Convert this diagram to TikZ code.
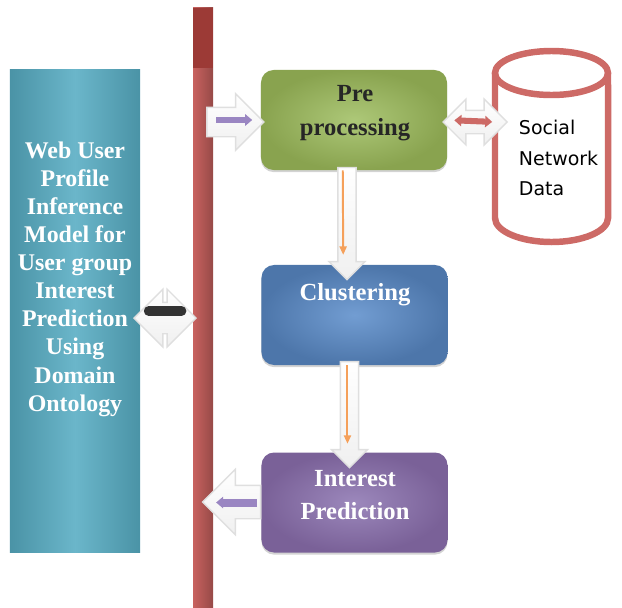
\documentclass[tikz,border=0pt]{standalone}
\usepackage{fontspec}
\setmainfont{Liberation Serif}
\newfontfamily\dbfont{DejaVu Sans}
\usepackage{tikz}
\usetikzlibrary{arrows.meta, positioning, shapes.arrows, shadows}
\definecolor{tealedge}{HTML}{4A93A6}
\definecolor{tealmid}{HTML}{6BB6CA}
\definecolor{greenedge}{HTML}{89A34F}
\definecolor{greenmid}{HTML}{ADC878}
\definecolor{blueedge}{HTML}{4D76AA}
\definecolor{bluemid}{HTML}{729DD2}
\definecolor{purpedge}{HTML}{7A6198}
\definecolor{purpmid}{HTML}{9C88BC}
\definecolor{barred}{HTML}{C8625F}
\definecolor{bardark}{HTML}{9C3A36}
\definecolor{dbred}{HTML}{CD6A66}
\definecolor{lilac}{HTML}{9A86C2}
\definecolor{orangeln}{HTML}{F5A05A}
\tikzstyle{block} = [rectangle, rounded corners=9pt, minimum width=4.65cm,
  minimum height=2.5cm, drop shadow={shadow xshift=0pt, shadow yshift=-1.5pt, opacity=0.35}]
\tikzstyle{blocktext} = [align=center, font=\fontsize{17.5}{24}\selectfont\bfseries]
\tikzstyle{hollow} = [single arrow, draw=gray!25, top color=white, bottom color=gray!12, line width=1pt]
\tikzstyle{hollowtwo} = [double arrow, draw=gray!25, top color=white, bottom color=gray!12, line width=1pt]
\tikzstyle{arrow} = [line width=4.3pt, -{Triangle[length=5pt, width=8pt]}]
\tikzstyle{thinarrow} = [line width=1.4pt, orangeln, -{Triangle[length=6pt, width=5pt]}]

\begin{document}
\begin{tikzpicture}[x=0.025cm, y=-0.025cm]
    \useasboundingbox (0,0) rectangle (622,607);
    % left model box and bar
    \node[rectangle, minimum width=3.25cm, minimum height=12.075cm, left color=tealedge,
      right color=tealedge, middle color=tealmid] (model) at (75,311) {};
    \node[blocktext, font=\fontsize{17}{20}\selectfont\bfseries, text=white] (modeltxt) at (75,279)
      {Web User\\Profile\\Inference\\Model for\\User group\\Interest\\Prediction\\Using\\Domain\\Ontology};
    \node[rectangle, inner sep=0pt, minimum width=0.5cm, minimum height=14.975cm,
      left color=barred, right color=barred!75!black] (bar) at (203,307.5) {};
    \fill[bardark] (193,8) rectangle (213,68);
    % process boxes
    \node[block, shading=radial, inner color=greenmid, outer color=greenedge] (pre) at (354,120) {};
    \node[blocktext, text=black!85] (pretxt) at (355,113) {Pre\\processing};
    \node[block, shading=radial, inner color=bluemid, outer color=blueedge] (clus) at (354.5,315) {};
    \node[blocktext, text=white] (clustxt) at (355,295) {Clustering};
    \node[block, shading=radial, inner color=purpmid, outer color=purpedge] (pred) at (354.5,502.5) {};
    \node[blocktext, text=white] (predtxt) at (355,495) {Interest\\Prediction};
    % data store
    \draw[dbred, line width=4.6pt, fill=white] (495,73) -- (495,218)
      arc[start angle=180, end angle=360, x radius=1.4125cm, y radius=0.6cm] -- (608,73);
    \draw[dbred, line width=4.6pt] (551.5,73) ellipse[x radius=1.4125cm, y radius=0.55cm];
    \node[anchor=west, align=left, font=\dbfont\fontsize{13.5}{21.7}\selectfont] (sndata) at (514,158)
      {Social\\Network\\Data};
    \coordinate (db) at (495,122);
    % hollow block arrows
    \node[hollow, inner xsep=0pt, inner ysep=0.35cm, minimum height=1.425cm, single arrow head extend=0.34cm] (a1) at (228,122) {};
    \node[hollowtwo, inner xsep=0pt, inner ysep=0.275cm, minimum height=1.6cm, double arrow head extend=0.28cm] (a2) at (475,122) {};
    \node[hollow, shape border rotate=270, inner xsep=0.21cm, inner ysep=0pt, minimum height=2.8cm, single arrow head extend=0.22cm] (a3) at (347,219) {};
    \node[hollow, shape border rotate=270, inner xsep=0.21cm, inner ysep=0pt, minimum height=2.65cm, single arrow head extend=0.22cm] (a4) at (349.5,410) {};
    \node[hollow, shape border rotate=180, inner xsep=0pt, inner ysep=0.4cm, minimum height=1.45cm, single arrow head extend=0.4cm] (a5) at (240,502) {};
    \node[hollowtwo, inner xsep=0pt, inner ysep=0.375cm, minimum height=1.55cm, double arrow head extend=0.33cm] (a6) at (165,318) {};
    % connectors
    \draw[arrow, lilac, shorten <=2pt, shorten >=6pt] (bar.east |- pre) -- (pre.west);
    \draw[line width=4.3pt, dbred, {Triangle[length=5pt, width=8pt]}-{Triangle[length=5pt, width=8pt]},
      shorten <=5pt, shorten >=2pt] (pre.east) -- (db);
    \draw[thinarrow, shorten >=7pt] ([xshift=-8pt]pre.south) -- ([xshift=-8pt]clus.north);
    \draw[thinarrow, shorten >=6pt] ([xshift=-5pt]clus.south) -- ([xshift=-5pt]pred.north);
    \draw[arrow, lilac, line width=5.7pt, shorten <=3pt, shorten >=2pt] (pred.west) -- (bar.east |- pred);
    \draw[line width=7pt, black!80, line cap=round, shorten <=6pt, shorten >=8pt] (model.east) -- (bar.west |- model.east);
  \end{tikzpicture}
\end{document}
